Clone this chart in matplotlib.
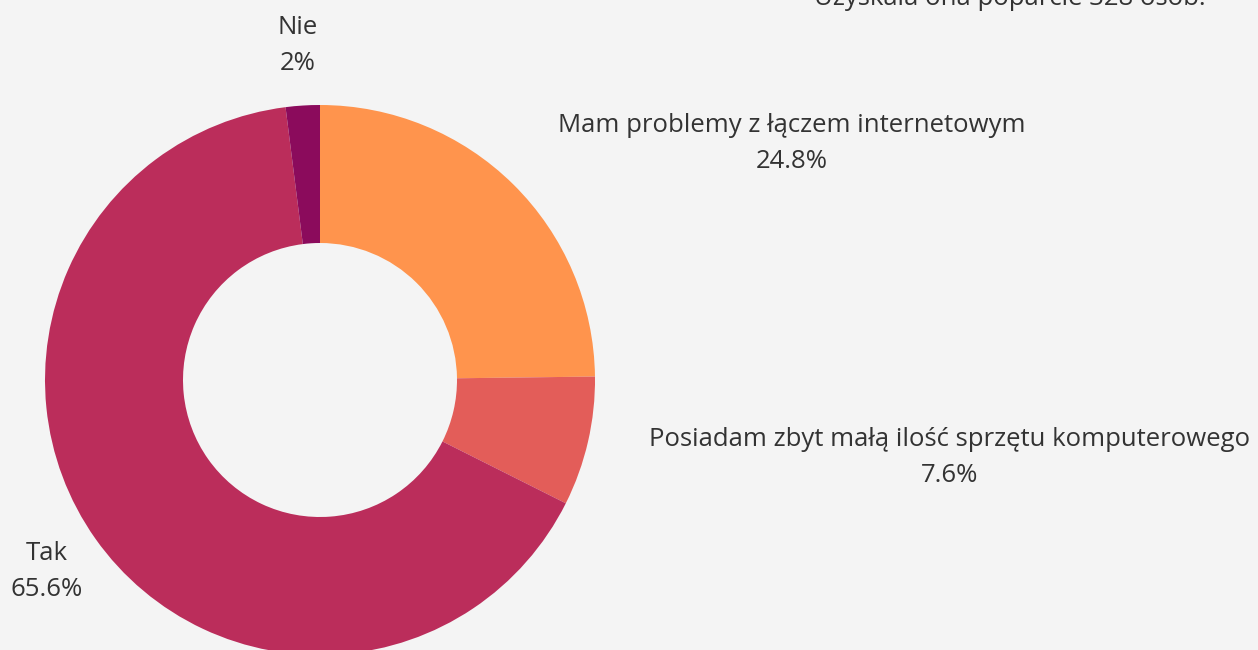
import matplotlib.pyplot as plt

# answers and their share (%)
labels = ["Mam problemy z łączem internetowym",
          "Posiadam zbyt małą ilość sprzętu komputerowego",
          "Tak",
          "Nie"]
values = [24.8, 7.6, 65.6, 2.0]
value_text = ["24.8%", "7.6%", "65.6%", "2%"]
colors = ["#FF944D", "#E35D59", "#BB2D5B", "#8B0B5C"]

# label centres in pixels (x, y from top)
label_pos = [(792, 125), (950, 439), (47, 553), (298, 28)]

W, H = 1258, 650
plt.rcParams['font.family'] = ['Open Sans', 'DejaVu Sans']
fig = plt.figure(figsize=(W / 100, H / 100), dpi=100, facecolor="#F4F4F4")
ax = fig.add_axes([0, 0, 1, 1])
ax.set_facecolor("#F4F4F4")

ax.pie(values, colors=colors, startangle=90, counterclock=False,
       center=(320, H - 380), radius=275, frame=True,
       wedgeprops=dict(width=138, linewidth=0))
ax.set_xlim(0, W)
ax.set_ylim(0, H)
ax.set_aspect("equal")
ax.axis("off")

for lab, val, (x, y) in zip(labels, value_text, label_pos):
    ax.text(x, H - y, lab, ha="center", va="center", fontsize=18.5, color="#333333")
    ax.text(x, H - y - 36, val, ha="center", va="center", fontsize=18.5, color="#333333")

# title, cut off at the top edge as in the source
ax.text(1010, H - 5, "Uzyskała ona poparcie 328 osób.", ha="center", va="baseline",
        fontsize=18.5, color="#333333")

fig.savefig("out.png", dpi=100, facecolor=fig.get_facecolor())
